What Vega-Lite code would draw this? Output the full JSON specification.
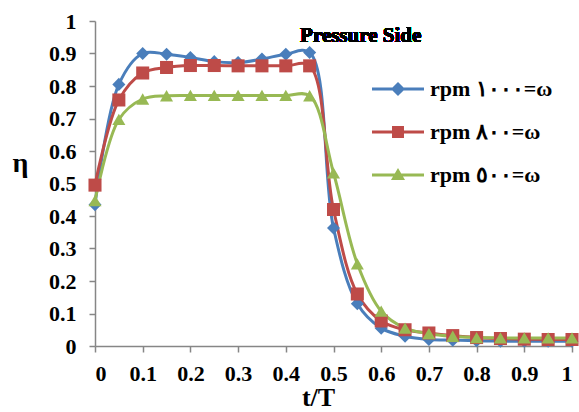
{
  "$schema": "https://vega.github.io/schema/vega-lite/v6.json",
  "width": 477,
  "height": 325,
  "autosize": {"type": "none"},
  "padding": {"left": 95, "top": 21, "right": 7, "bottom": 66},
  "background": "white",
  "config": {
    "view": {"stroke": null},
    "font": "Liberation Serif",
    "axis": {
      "grid": false,
      "domainColor": "#868686",
      "domainWidth": 1.5,
      "tickColor": "#868686",
      "tickWidth": 1.5,
      "tickSize": 6,
      "labelFont": "Liberation Serif",
      "labelFontSize": 22,
      "labelFontWeight": "bold",
      "labelColor": "#000000",
      "titleFont": "Liberation Serif",
      "titleFontWeight": "bold",
      "titleColor": "#000000"
    },
    "legend": {
      "orient": "none",
      "legendX": 277,
      "legendY": 42,
      "labelFont": "Liberation Serif",
      "labelFontSize": 22,
      "labelFontWeight": "bold",
      "labelColor": "#000000",
      "labelOffset": 6,
      "symbolSize": 2704,
      "symbolStrokeWidth": 0,
      "symbolOpacity": 1,
      "rowPadding": 6
    }
  },
  "data": {
    "values": [
      {"t": 0.00, "eta": 0.435, "speed": "rpm ١٠٠٠=ω"},
      {"t": 0.05, "eta": 0.805, "speed": "rpm ١٠٠٠=ω"},
      {"t": 0.10, "eta": 0.900, "speed": "rpm ١٠٠٠=ω"},
      {"t": 0.15, "eta": 0.898, "speed": "rpm ١٠٠٠=ω"},
      {"t": 0.20, "eta": 0.888, "speed": "rpm ١٠٠٠=ω"},
      {"t": 0.25, "eta": 0.875, "speed": "rpm ١٠٠٠=ω"},
      {"t": 0.30, "eta": 0.872, "speed": "rpm ١٠٠٠=ω"},
      {"t": 0.35, "eta": 0.883, "speed": "rpm ١٠٠٠=ω"},
      {"t": 0.40, "eta": 0.898, "speed": "rpm ١٠٠٠=ω"},
      {"t": 0.45, "eta": 0.903, "speed": "rpm ١٠٠٠=ω"},
      {"t": 0.50, "eta": 0.363, "speed": "rpm ١٠٠٠=ω"},
      {"t": 0.55, "eta": 0.130, "speed": "rpm ١٠٠٠=ω"},
      {"t": 0.60, "eta": 0.055, "speed": "rpm ١٠٠٠=ω"},
      {"t": 0.65, "eta": 0.030, "speed": "rpm ١٠٠٠=ω"},
      {"t": 0.70, "eta": 0.020, "speed": "rpm ١٠٠٠=ω"},
      {"t": 0.75, "eta": 0.018, "speed": "rpm ١٠٠٠=ω"},
      {"t": 0.80, "eta": 0.016, "speed": "rpm ١٠٠٠=ω"},
      {"t": 0.85, "eta": 0.015, "speed": "rpm ١٠٠٠=ω"},
      {"t": 0.90, "eta": 0.015, "speed": "rpm ١٠٠٠=ω"},
      {"t": 0.95, "eta": 0.015, "speed": "rpm ١٠٠٠=ω"},
      {"t": 1.00, "eta": 0.015, "speed": "rpm ١٠٠٠=ω"},
      {"t": 0.00, "eta": 0.495, "speed": "rpm ٨٠٠=ω"},
      {"t": 0.05, "eta": 0.757, "speed": "rpm ٨٠٠=ω"},
      {"t": 0.10, "eta": 0.840, "speed": "rpm ٨٠٠=ω"},
      {"t": 0.15, "eta": 0.857, "speed": "rpm ٨٠٠=ω"},
      {"t": 0.20, "eta": 0.863, "speed": "rpm ٨٠٠=ω"},
      {"t": 0.25, "eta": 0.863, "speed": "rpm ٨٠٠=ω"},
      {"t": 0.30, "eta": 0.862, "speed": "rpm ٨٠٠=ω"},
      {"t": 0.35, "eta": 0.862, "speed": "rpm ٨٠٠=ω"},
      {"t": 0.40, "eta": 0.862, "speed": "rpm ٨٠٠=ω"},
      {"t": 0.45, "eta": 0.862, "speed": "rpm ٨٠٠=ω"},
      {"t": 0.50, "eta": 0.420, "speed": "rpm ٨٠٠=ω"},
      {"t": 0.55, "eta": 0.160, "speed": "rpm ٨٠٠=ω"},
      {"t": 0.60, "eta": 0.077, "speed": "rpm ٨٠٠=ω"},
      {"t": 0.65, "eta": 0.050, "speed": "rpm ٨٠٠=ω"},
      {"t": 0.70, "eta": 0.040, "speed": "rpm ٨٠٠=ω"},
      {"t": 0.75, "eta": 0.032, "speed": "rpm ٨٠٠=ω"},
      {"t": 0.80, "eta": 0.026, "speed": "rpm ٨٠٠=ω"},
      {"t": 0.85, "eta": 0.023, "speed": "rpm ٨٠٠=ω"},
      {"t": 0.90, "eta": 0.021, "speed": "rpm ٨٠٠=ω"},
      {"t": 0.95, "eta": 0.020, "speed": "rpm ٨٠٠=ω"},
      {"t": 1.00, "eta": 0.020, "speed": "rpm ٨٠٠=ω"},
      {"t": 0.00, "eta": 0.447, "speed": "rpm ٥٠٠=ω"},
      {"t": 0.05, "eta": 0.697, "speed": "rpm ٥٠٠=ω"},
      {"t": 0.10, "eta": 0.760, "speed": "rpm ٥٠٠=ω"},
      {"t": 0.15, "eta": 0.770, "speed": "rpm ٥٠٠=ω"},
      {"t": 0.20, "eta": 0.771, "speed": "rpm ٥٠٠=ω"},
      {"t": 0.25, "eta": 0.771, "speed": "rpm ٥٠٠=ω"},
      {"t": 0.30, "eta": 0.771, "speed": "rpm ٥٠٠=ω"},
      {"t": 0.35, "eta": 0.771, "speed": "rpm ٥٠٠=ω"},
      {"t": 0.40, "eta": 0.771, "speed": "rpm ٥٠٠=ω"},
      {"t": 0.45, "eta": 0.770, "speed": "rpm ٥٠٠=ω"},
      {"t": 0.50, "eta": 0.533, "speed": "rpm ٥٠٠=ω"},
      {"t": 0.55, "eta": 0.253, "speed": "rpm ٥٠٠=ω"},
      {"t": 0.60, "eta": 0.107, "speed": "rpm ٥٠٠=ω"},
      {"t": 0.65, "eta": 0.055, "speed": "rpm ٥٠٠=ω"},
      {"t": 0.70, "eta": 0.038, "speed": "rpm ٥٠٠=ω"},
      {"t": 0.75, "eta": 0.030, "speed": "rpm ٥٠٠=ω"},
      {"t": 0.80, "eta": 0.026, "speed": "rpm ٥٠٠=ω"},
      {"t": 0.85, "eta": 0.025, "speed": "rpm ٥٠٠=ω"},
      {"t": 0.90, "eta": 0.025, "speed": "rpm ٥٠٠=ω"},
      {"t": 0.95, "eta": 0.025, "speed": "rpm ٥٠٠=ω"},
      {"t": 1.00, "eta": 0.025, "speed": "rpm ٥٠٠=ω"}
    ]
  },
  "encoding": {
    "x": {
      "field": "t",
      "type": "quantitative",
      "scale": {"domain": [0, 1], "nice": false},
      "axis": {
        "values": [0, 0.1, 0.2, 0.3, 0.4, 0.5, 0.6, 0.7, 0.8, 0.9, 1],
        "format": ".1~f",
        "labelPadding": 11,
        "title": "t/T",
        "titleFontSize": 26,
        "titleX": 223,
        "titleY": 59,
        "titleAnchor": "middle",
        "titleAlign": "center",
        "titleBaseline": "alphabetic"
      }
    },
    "y": {
      "field": "eta",
      "type": "quantitative",
      "scale": {"domain": [0, 1], "nice": false},
      "axis": {
        "values": [0, 0.1, 0.2, 0.3, 0.4, 0.5, 0.6, 0.7, 0.8, 0.9, 1],
        "format": ".1~f",
        "labelPadding": 13,
        "title": "η",
        "titleFontSize": 28,
        "titleAngle": 0,
        "titleX": -75,
        "titleY": 142,
        "titleAlign": "center",
        "titleBaseline": "middle"
      }
    }
  },
  "resolve": {
    "scale": {"shape": "independent"},
    "legend": {"color": "independent", "shape": "independent"}
  },
  "layer": [
    {
      "mark": {"type": "line", "interpolate": "catmull-rom", "strokeWidth": 3},
      "encoding": {
        "color": {
          "field": "speed",
          "type": "nominal",
          "scale": {
            "domain": ["rpm ١٠٠٠=ω", "rpm ٨٠٠=ω", "rpm ٥٠٠=ω"],
            "range": ["#4A7EBB", "#BE4B48", "#98B954"]
          },
          "legend": null
        }
      }
    },
    {
      "mark": {"type": "point", "filled": true, "opacity": 1, "size": 170},
      "encoding": {
        "shape": {
          "field": "speed",
          "type": "nominal",
          "scale": {
            "domain": ["rpm ١٠٠٠=ω", "rpm ٨٠٠=ω", "rpm ٥٠٠=ω"],
            "range": ["diamond", "square", "triangle-up"]
          },
          "legend": null
        },
        "color": {
          "field": "speed",
          "type": "nominal",
          "legend": null
        }
      }
    },
    {
      "mark": {"type": "point", "filled": true, "opacity": 0},
      "encoding": {
        "shape": {
          "field": "speed",
          "type": "nominal",
          "scale": {
            "domain": ["rpm ١٠٠٠=ω", "rpm ٨٠٠=ω", "rpm ٥٠٠=ω"],
            "range": [
              "M-1,-0.058H1V0.058H-1ZM0,-0.27L0.27,0L0,0.27L-0.27,0Z",
              "M-1,-0.058H1V0.058H-1ZM-0.23,-0.23H0.23V0.23H-0.23Z",
              "M-1,-0.058H1V0.058H-1ZM0,-0.27L0.27,0.19H-0.27Z"
            ]
          },
          "legend": null
        },
        "color": {
          "field": "speed",
          "type": "nominal",
          "legend": {"title": null}
        }
      }
    },
    {
      "mark": {
        "type": "text",
        "text": "Pressure Side",
        "font": "Liberation Serif",
        "fontSize": 21,
        "fontWeight": "bold",
        "color": "#000000",
        "align": "left",
        "baseline": "alphabetic"
      },
      "encoding": {
        "x": {"datum": 0.43},
        "y": {"datum": 0.935}
      }
    }
  ]
}
